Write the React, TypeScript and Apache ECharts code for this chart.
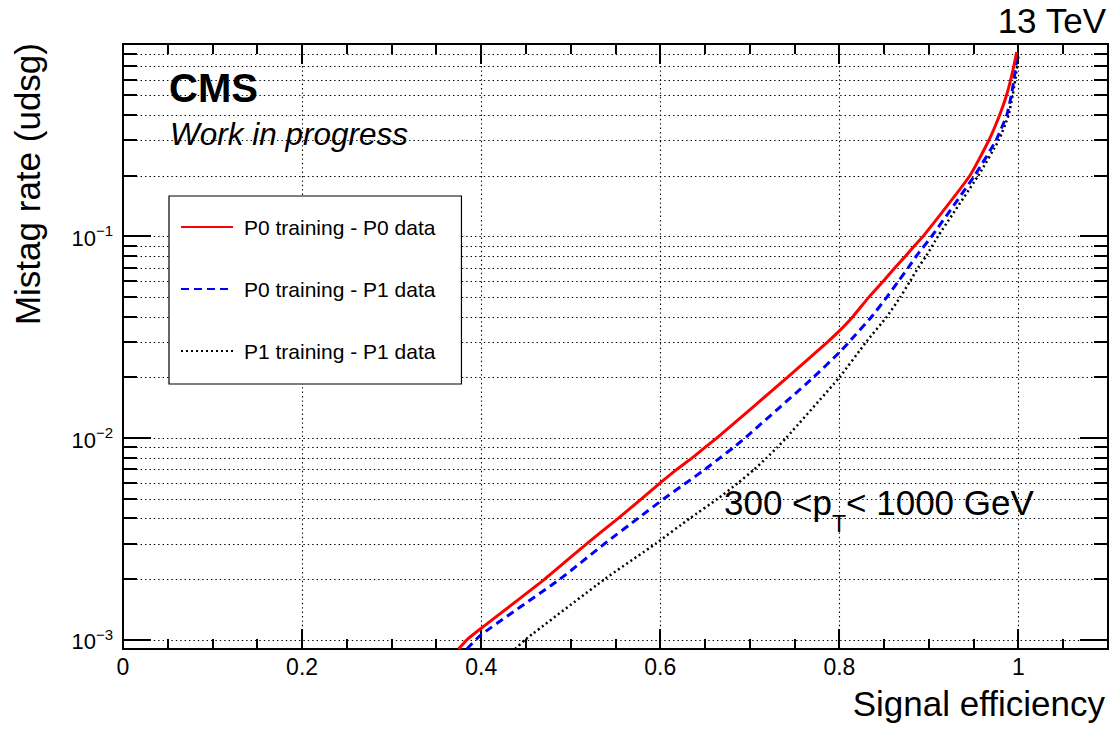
import React, { useEffect, useRef } from 'react';
import * as echarts from 'echarts';

const SERIES_NAMES = ['P0 training - P0 data', 'P0 training - P1 data', 'P1 training - P1 data'];

const RED_X = [0.3746, 0.384, 0.4, 0.471, 0.518, 0.553, 0.579, 0.6, 0.6185, 0.636, 0.65, 0.663, 0.742, 0.787, 0.8, 0.815, 0.833, 0.849, 0.862, 0.874, 0.884, 0.8935, 0.9457, 0.967, 0.979, 0.9866, 0.9914, 0.9948, 0.998];
const RED_Y = [0.0009, 0.001, 0.00114, 0.002, 0.003, 0.004, 0.005, 0.006, 0.007, 0.008, 0.009, 0.01, 0.02, 0.03, 0.034, 0.04, 0.05, 0.06, 0.07, 0.08, 0.09, 0.1, 0.2, 0.3, 0.4, 0.5, 0.6, 0.7, 0.82];

const BLUE_X = [0.384, 0.4, 0.488, 0.538, 0.575, 0.604, 0.629, 0.65, 0.667, 0.682, 0.6945, 0.771, 0.8, 0.811, 0.836, 0.853, 0.866, 0.877, 0.886, 0.903, 0.951, 0.975, 0.987, 0.992, 0.995, 0.997, 0.9985];
const BLUE_Y = [0.0009, 0.00106, 0.002, 0.003, 0.004, 0.005, 0.006, 0.007, 0.008, 0.009, 0.01, 0.02, 0.0266, 0.03, 0.04, 0.05, 0.06, 0.07, 0.08, 0.1, 0.2, 0.3, 0.4, 0.5, 0.6, 0.7, 0.78];

const BLACK_X = [0.438, 0.449, 0.538, 0.595, 0.633, 0.664, 0.687, 0.705, 0.719, 0.7306, 0.7404, 0.8, 0.83, 0.853, 0.868, 0.879, 0.888, 0.897, 0.91, 0.955, 0.978, 0.989, 0.9935, 0.9965, 0.9985, 1.0];
const BLACK_Y = [0.0009, 0.001, 0.002, 0.003, 0.004, 0.005, 0.006, 0.007, 0.008, 0.009, 0.01, 0.02, 0.03, 0.04, 0.05, 0.06, 0.07, 0.08, 0.1, 0.2, 0.3, 0.4, 0.5, 0.6, 0.7, 0.78];

const X_TICKS = [0, 0.05, 0.1, 0.15, 0.2, 0.25, 0.3, 0.35, 0.4, 0.45, 0.5, 0.55, 0.6, 0.65, 0.7, 0.75, 0.8, 0.85, 0.9, 0.95, 1.0, 1.05];
const X_MAJOR_TICKS = [0, 0.2, 0.4, 0.6, 0.8, 1.0];
const Y_DECADES = [0.001, 0.01, 0.1];
const Y_MULTIPLIERS = [1, 2, 3, 4, 5, 6, 7, 8, 9];

const X_MIN = 0;
const X_MAX = 1.1;
const Y_MIN = 0.0009;
const Y_MAX = 0.9;

const FONT = '"Liberation Sans", Arial, Helvetica, sans-serif';

const zip = (xs: number[], ys: number[]) => xs.map((x, i) => [x, ys[i]]);

export default function App() {
  const ref = useRef<HTMLDivElement>(null);

  useEffect(() => {
    document.body.style.margin = '0';
    if (!ref.current) return;
    const chart = echarts.init(ref.current, null, { renderer: 'svg' });

    const gridStyle = { stroke: '#000', lineWidth: 1.1, lineDash: [1.4, 3] };
    const tickStyle = { stroke: '#000', lineWidth: 2 };

    const xTickData = X_TICKS.map((v) => [v, Y_MIN, X_MAJOR_TICKS.some((m) => Math.abs(m - v) < 1e-9) ? 1 : 0]);
    const yTickData: number[][] = [];
    Y_DECADES.forEach((d) => {
      Y_MULTIPLIERS.forEach((m) => {
        yTickData.push([X_MIN, +(d * m).toPrecision(6), m === 1 ? 1 : 0]);
      });
    });

    const option: any = {
      animation: false,
      backgroundColor: '#fff',
      textStyle: { fontFamily: FONT, color: '#000' },
      grid: {
        left: 123,
        right: 7,
        top: 44,
        bottom: 80,
        show: true,
        borderColor: '#000',
        borderWidth: 2,
        backgroundColor: 'transparent',
        containLabel: false,
      },
      xAxis: {
        type: 'value',
        min: X_MIN,
        max: X_MAX,
        interval: 0.2,
        axisLine: { show: false },
        axisTick: { show: false },
        splitLine: { show: false },
        axisLabel: {
          fontSize: 23,
          fontFamily: FONT,
          color: '#000',
          margin: 6,
          formatter: (v: number) => (v > 1.05 ? '' : String(+v.toFixed(1))),
        },
      },
      yAxis: {
        type: 'log',
        logBase: 10,
        min: Y_MIN,
        max: Y_MAX,
        axisLine: { show: false },
        axisTick: { show: false },
        splitLine: { show: false },
        axisLabel: {
          margin: 10,
          color: '#000',
          formatter: (v: number) => {
            const e = Math.log10(v);
            const r = Math.round(e);
            if (Math.abs(e - r) > 1e-6) return '';
            return `{b|10}{s|\u2212${-r}}`;
          },
          rich: {
            b: { fontSize: 22, fontFamily: FONT, color: '#000', lineHeight: 26, verticalAlign: 'bottom' },
            s: { fontSize: 15, fontFamily: FONT, color: '#000', lineHeight: 15, verticalAlign: 'top' },
          },
        },
      },
      legend: {
        data: SERIES_NAMES,
        orient: 'vertical',
        left: 169,
        top: 196,
        padding: [20, 26, 22, 11],
        itemGap: 40,
        itemWidth: 52,
        itemHeight: 22,
        backgroundColor: '#fff',
        borderColor: '#000',
        borderWidth: 1.2,
        borderRadius: 0,
        selectedMode: false,
        itemStyle: { opacity: 0 },
        textStyle: { fontSize: 21, lineHeight: 22, fontFamily: FONT, color: '#000', padding: [0, 0, 0, 6] },
      },
      graphic: [
        {
          type: 'text',
          x: 1106,
          y: 20,
          style: { text: '13 TeV', fill: '#000', font: `35px ${FONT}`, align: 'right', textAlign: 'right', verticalAlign: 'middle', textVerticalAlign: 'middle' },
        },
        {
          type: 'text',
          x: 169,
          y: 88,
          style: { text: 'CMS', fill: '#000', font: `bold 40px ${FONT}`, align: 'left', textAlign: 'left', verticalAlign: 'middle', textVerticalAlign: 'middle' },
        },
        {
          type: 'text',
          x: 170,
          y: 134,
          style: { text: 'Work in progress', fill: '#000', font: `italic 31.5px ${FONT}`, align: 'left', textAlign: 'left', verticalAlign: 'middle', textVerticalAlign: 'middle' },
        },
        {
          type: 'text',
          x: 1105,
          y: 703,
          style: { text: 'Signal efficiency', fill: '#000', font: `35px ${FONT}`, align: 'right', textAlign: 'right', verticalAlign: 'middle', textVerticalAlign: 'middle' },
        },
        {
          type: 'text',
          x: 27,
          y: 43,
          rotation: Math.PI / 2,
          style: { text: 'Mistag rate (udsg)', fill: '#000', font: `35px ${FONT}`, align: 'right', textAlign: 'right', verticalAlign: 'middle', textVerticalAlign: 'middle' },
        },
        {
          type: 'text',
          x: 724,
          y: 485,
          style: {
            text: '{n|300 <p}{s|T}{n|< 1000 GeV}',
            fill: '#000',
            align: 'left',
            textAlign: 'left',
            verticalAlign: 'top',
            textVerticalAlign: 'top',
            rich: {
              n: { fontSize: 35, fontFamily: FONT, lineHeight: 35, verticalAlign: 'top', fill: '#000', color: '#000' },
              s: { fontSize: 23, fontFamily: FONT, lineHeight: 23, padding: [27, 0, 0, 0], verticalAlign: 'top', fill: '#000', color: '#000' },
            },
          },
        },
      ],
      series: [
        {
          type: 'custom',
          name: 'yGrid',
          coordinateSystem: 'cartesian2d',
          silent: true,
          z: 1,
          encode: { x: 0, y: 1 },
          data: yTickData,
          renderItem: (params: any, api: any) => {
            const cs = params.coordSys;
            const v = api.value(1);
            const major = api.value(2) === 1;
            const y = Math.round(api.coord([X_MIN, v])[1]);
            const len = major ? 28 : 14;
            const left = cs.x;
            const right = cs.x + cs.width;
            return {
              type: 'group',
              children: [
                { type: 'line', shape: { x1: left, y1: y + 0.5, x2: right, y2: y + 0.5 }, style: gridStyle },
                { type: 'line', shape: { x1: left, y1: y, x2: left + len, y2: y }, style: tickStyle },
                { type: 'line', shape: { x1: right - len, y1: y, x2: right, y2: y }, style: tickStyle },
              ],
            };
          },
        },
        {
          type: 'custom',
          name: 'xGrid',
          coordinateSystem: 'cartesian2d',
          silent: true,
          z: 1,
          encode: { x: 0, y: 1 },
          data: xTickData,
          renderItem: (params: any, api: any) => {
            const cs = params.coordSys;
            const v = api.value(0);
            const major = api.value(2) === 1;
            const x = Math.round(api.coord([v, Y_MIN])[0]);
            const len = major ? 20 : 10;
            const top = cs.y;
            const bottom = cs.y + cs.height;
            const children: any[] = [];
            if (major && v > 0) {
              children.push({ type: 'line', shape: { x1: x + 0.5, y1: top, x2: x + 0.5, y2: bottom }, style: gridStyle });
            }
            children.push({ type: 'line', shape: { x1: x, y1: bottom, x2: x, y2: bottom - len }, style: tickStyle });
            children.push({ type: 'line', shape: { x1: x, y1: top, x2: x, y2: top + len }, style: tickStyle });
            return { type: 'group', children };
          },
        },
        {
          type: 'line',
          name: SERIES_NAMES[0],
          data: zip(RED_X, RED_Y),
          showSymbol: false,
          symbol: 'none',
          smooth: 0.15,
          z: 5,
          lineStyle: { color: '#ff0000', width: 3, type: 'solid' },
          itemStyle: { color: '#ff0000' },
        },
        {
          type: 'line',
          name: SERIES_NAMES[1],
          data: zip(BLUE_X, BLUE_Y),
          showSymbol: false,
          symbol: 'none',
          smooth: 0.15,
          z: 4,
          lineStyle: { color: '#0000ff', width: 3, type: [8, 5] },
          itemStyle: { color: '#0000ff' },
        },
        {
          type: 'line',
          name: SERIES_NAMES[2],
          data: zip(BLACK_X, BLACK_Y),
          showSymbol: false,
          symbol: 'none',
          smooth: 0.15,
          z: 3,
          lineStyle: { color: '#000000', width: 2.5, type: [2, 3] },
          itemStyle: { color: '#000000' },
        },
      ],
    };

    chart.setOption(option);
    return () => chart.dispose();
  }, []);

  return <div ref={ref} style={{ position: 'absolute', left: 0, top: 0, width: 1115, height: 729 }} />;
}
